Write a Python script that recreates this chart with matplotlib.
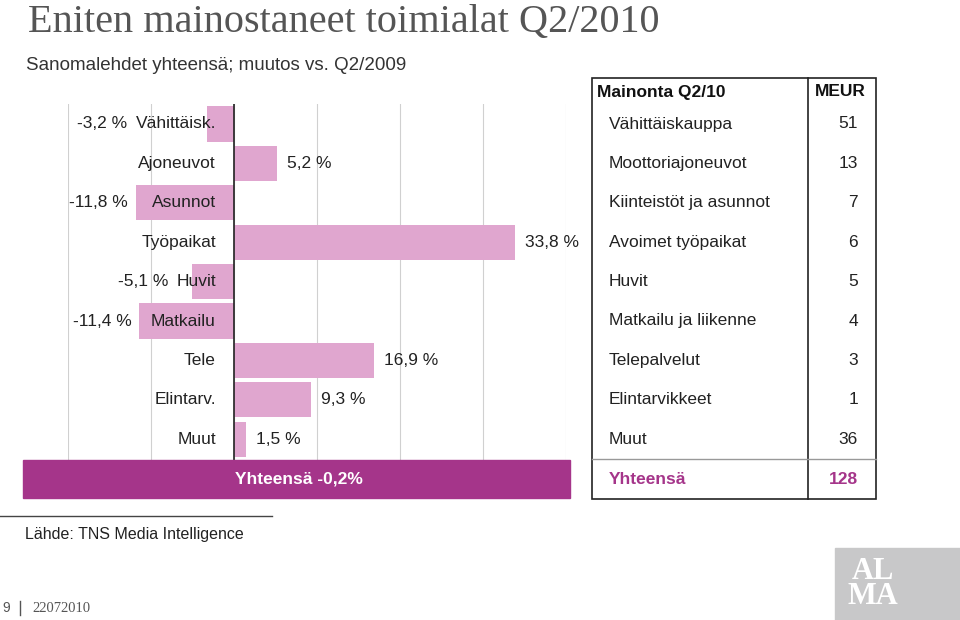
import matplotlib
matplotlib.use("Agg")
import matplotlib.pyplot as plt
from matplotlib.patches import Rectangle
from matplotlib.lines import Line2D

categories = ["Vähittäisk.", "Ajoneuvot", "Asunnot", "Työpaikat", "Huvit",
              "Matkailu", "Tele", "Elintarv.", "Muut"]
changes = [-3.2, 5.2, -11.8, 33.8, -5.1, -11.4, 16.9, 9.3, 1.5]
total_change = -0.2
table_names = ["Vähittäiskauppa", "Moottoriajoneuvot", "Kiinteistöt ja asunnot",
               "Avoimet työpaikat", "Huvit", "Matkailu ja liikenne", "Telepalvelut",
               "Elintarvikkeet", "Muut"]
table_meur = [51, 13, 7, 6, 5, 4, 3, 1, 36]
table_total = 128

FONT = "Liberation Sans"
PINK = "#e0a6cf"
PURPLE = "#a5358a"
W, H = 960, 620
FS = 12.5

fig = plt.figure(figsize=(9.6, 6.2), dpi=100)

def fx(x): return x / W
def fy(y): return 1 - y / H

def ftext(x, y, s, **kw):
    kw.setdefault("family", FONT)
    return fig.text(fx(x), fy(y), s, **kw)

# title
ftext(28, 22, "Eniten mainostaneet toimialat Q2/2010", family="Liberation Serif",
      fontsize=29, color="#555555", va="center")
ftext(26, 66, "Sanomalehdet yhteensä; muutos vs. Q2/2009", fontsize=13.5, color="#333333", va="center")

# bar axes
ax_l, ax_r, ax_t, ax_b = 68, 566, 104, 492
ax = fig.add_axes([fx(ax_l), fy(ax_b), fx(ax_r) - fx(ax_l), (ax_b - ax_t) / H])
row_h = 39.4
n = len(categories)
ax.set_xlim(-20, 40)
ax.set_ylim((ax_b - 124) / row_h, -(124 - ax_t) / row_h)
ax.axis("off")
for g in range(-20, 41, 10):
    ax.axvline(g, color="#d0d0d0", lw=0.8, zorder=0)
ax.axvline(0, color="#222222", lw=1.2, zorder=3)
ys = list(range(n))
ax.barh(ys, changes, height=0.89, color=PINK, zorder=2)

def fmt(v):
    return f"{v:.1f}".replace(".", ",") + " %"

fig.canvas.draw()
r = fig.canvas.get_renderer()
for i, (c, v) in enumerate(zip(categories, changes)):
    t = ax.annotate(c, xy=(0, i), xytext=(-18, 0), textcoords="offset pixels",
                    ha="right", va="center", fontsize=FS, family=FONT, color="#222222", zorder=4)
    if v >= 0:
        ax.annotate(fmt(v), xy=(v, i), xytext=(10, 0), textcoords="offset pixels",
                    ha="left", va="center", fontsize=FS, family=FONT, color="#222222")
    else:
        bb = t.get_window_extent(r)
        bar_left = ax.transData.transform((v, i))[0]
        left = min(bb.x0, bar_left) - 8
        ax.annotate(fmt(v), xy=(left, ax.transData.transform((0, i))[1]), xycoords="figure pixels",
                    ha="right", va="center", fontsize=FS, family=FONT, color="#222222")

# total bar
fig.patches.append(Rectangle((fx(23), fy(498)), fx(570) - fx(23), (498 - 460) / H,
                             transform=fig.transFigure, color=PURPLE, zorder=5))
ftext(299, 479, "Yhteensä " + f"{total_change:.1f}".replace(".", ",") + "%", fontsize=FS,
      color="white", weight="bold", ha="center", va="center", zorder=6)

# table
tl, tr, tdiv, tt, tb = 592, 876, 808, 78, 499
fig.patches.append(Rectangle((fx(tl), fy(tb)), fx(tr) - fx(tl), (tb - tt) / H,
                             transform=fig.transFigure, fill=False, ec="#222222", lw=1.2))
fig.lines.append(Line2D([fx(tdiv)] * 2, [fy(tt), fy(tb)], transform=fig.transFigure,
                        color="#222222", lw=1.2))
fig.lines.append(Line2D([fx(tl), fx(tr)], [fy(459)] * 2, transform=fig.transFigure,
                        color="#999999", lw=1))
ftext(597, 92, "Mainonta Q2/10", fontsize=FS, weight="bold", va="center", color="#111111")
ftext(866, 92, "MEUR", fontsize=FS, weight="bold", va="center", ha="right", color="#111111")
for i, (nm, v) in enumerate(zip(table_names, table_meur)):
    y = 124 + row_h * i
    ftext(609, y, nm, fontsize=FS, va="center", color="#222222")
    ftext(858, y, str(v), fontsize=FS, va="center", ha="right", color="#222222")
ftext(609, 480, "Yhteensä", fontsize=FS, weight="bold", va="center", color=PURPLE)
ftext(858, 480, str(table_total), fontsize=FS, weight="bold", va="center", ha="right", color=PURPLE)

# footer
fig.lines.append(Line2D([0, fx(272)], [fy(516)] * 2, transform=fig.transFigure, color="#444444", lw=1))
ftext(25, 535, "Lähde: TNS Media Intelligence", fontsize=11.5, va="center", color="#222222")
ftext(2, 608, "9", fontsize=10, va="center", color="#555555")
fig.lines.append(Line2D([fx(20)] * 2, [fy(601), fy(615)], transform=fig.transFigure, color="#555555", lw=1))
ftext(32, 608, "22072010", family="Liberation Serif", fontsize=10.5, va="center", color="#555555")
fig.patches.append(Rectangle((fx(835), 0), fx(960) - fx(835), (620 - 548) / H,
                             transform=fig.transFigure, color="#c8c8c9"))
ftext(873, 584, "AL\nMA", family="Liberation Serif", fontsize=22, weight="bold", color="white",
      ha="center", va="center", linespacing=0.85)

fig.savefig("out.png", dpi=100)
